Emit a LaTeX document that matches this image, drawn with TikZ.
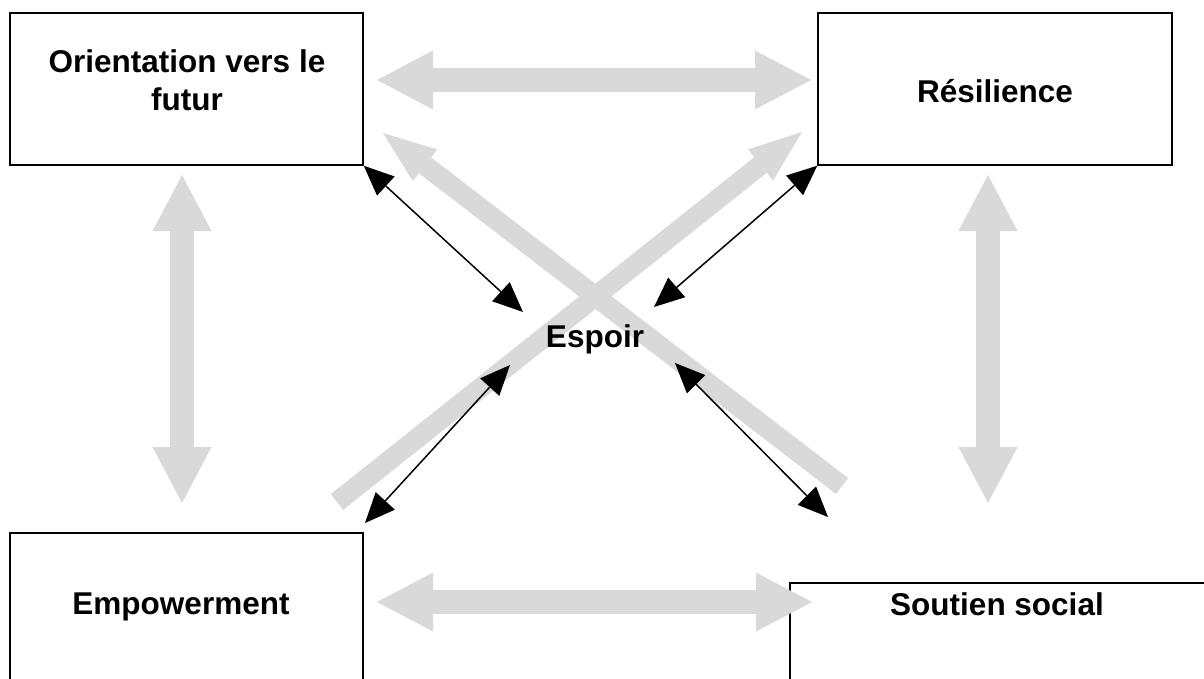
\documentclass[tikz,border=0pt]{standalone}
\usepackage{fontspec}
\setmainfont{Liberation Sans}
\usetikzlibrary{arrows.meta}
\definecolor{blockgray}{RGB}{217,217,217}
\begin{document}
\begin{tikzpicture}[x=1pt,y=-1pt,
  box/.style={draw=black, line width=1.5pt, rectangle, inner sep=0pt},
  lbl/.style={font=\fontsize{31.5pt}{38pt}\selectfont\bfseries, inner sep=0pt, align=center},
  bigarrow/.style={draw=blockgray, line width=24pt,
    {Triangle[length=56pt,width=59pt,line width=0pt]}-{Triangle[length=56pt,width=59pt,line width=0pt]}},
  diagarrow/.style={draw=blockgray, line width=20pt,
    -{Triangle[length=53pt,width=40pt,line width=0pt]}},
  thinarrow/.style={draw=black, line width=1.5pt,
    {Triangle[length=30pt,width=26pt,line width=0pt]}-{Triangle[length=30pt,width=26pt,line width=0pt]}}]
\useasboundingbox (0,0) rectangle (1204,679);
\clip (0,0) rectangle (1204,679);

% boxes
\node[box, minimum width=353pt, minimum height=152pt] (ori) at (186.5,89) {};
\node[box, minimum width=354pt, minimum height=152pt] (res) at (995,89) {};
\node[box, minimum width=353pt, minimum height=187pt] (emp) at (186.5,626.5) {};
\node[box, minimum width=440pt, minimum height=137pt] (sou) at (1010,651.5) {};

% coordinates of the block arrows
\coordinate (th1) at (377,80);  \coordinate (th2) at (811,80);
\coordinate (bh1) at (377,602); \coordinate (bh2) at (812,602);
\coordinate (lv1) at (182,175); \coordinate (lv2) at (182,503);
\coordinate (rv1) at (988,175); \coordinate (rv2) at (988,503);
\coordinate (d1s) at (337,502); \coordinate (d1e) at (802,132);
\coordinate (d2s) at (842,486); \coordinate (d2e) at (383,133);

\draw[bigarrow] (th1) -- (th2);
\draw[bigarrow] (bh1) -- (bh2);
\draw[bigarrow] (lv1) -- (lv2);
\draw[bigarrow] (rv1) -- (rv2);
\draw[diagarrow] (d1s) -- (d1e);
\draw[diagarrow] (d2s) -- (d2e);

% labels
\node[lbl, anchor=north] (oril) at (187,49) {Orientation vers le\\futur};
\node[lbl, anchor=base] (resl) at (995,103) {Résilience};
\node[lbl, anchor=base] (esp) at (595,347) {Espoir};
\node[lbl, anchor=base] (empl) at (181,614) {Empowerment};
\node[lbl, anchor=base] (soul) at (997,615) {Soutien social};

% thin double arrows around Espoir
\coordinate (e1) at (523,312);
\coordinate (e2) at (654,307);
\coordinate (e3) at (510,365);
\coordinate (e4) at (675,363);
\coordinate (b3) at (365,523);
\coordinate (b4) at (828,517);
\draw[thinarrow] (ori.south east) -- (e1);
\draw[thinarrow] (res.south west) -- (e2);
\draw[thinarrow] (b3) -- (e3);
\draw[thinarrow] (e4) -- (b4);
\end{tikzpicture}
\end{document}
